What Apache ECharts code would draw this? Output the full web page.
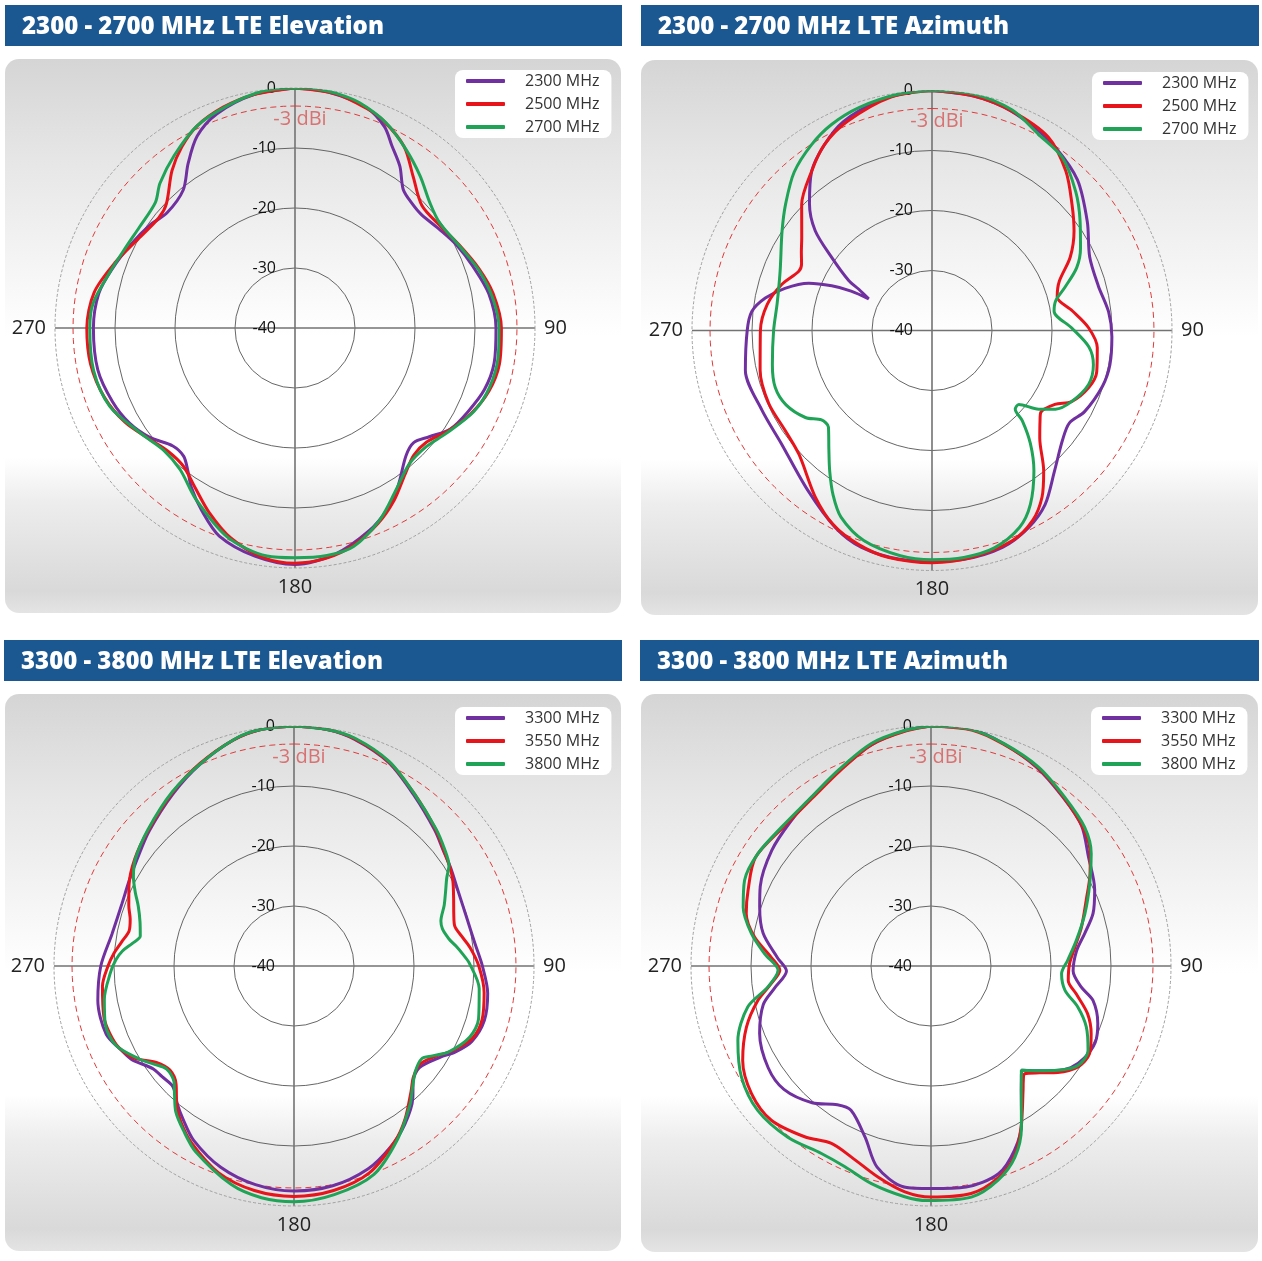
<!DOCTYPE html>
<html><head><meta charset="utf-8">
<script src="https://cdn.jsdelivr.net/npm/echarts@6/dist/echarts.min.js"></script>
<style>html,body{margin:0;padding:0;background:#fff;}#c{width:1262px;height:1261px;}</style>
</head><body><div id="c"></div>
<script>
// ---------- text ----------
const titles = ['2300 - 2700 MHz LTE Elevation', '2300 - 2700 MHz LTE Azimuth', '3300 - 3800 MHz LTE Elevation', '3300 - 3800 MHz LTE Azimuth'];
const bandA = ['2300 MHz', '2500 MHz', '2700 MHz'];
const bandB = ['3300 MHz', '3550 MHz', '3800 MHz'];
const radiusMin = -40, radiusMax = 0, radiusStep = 10;
const angleStep = 90;
const refLevel = -3;
const refLabel = '-3 dBi';

// ---------- data: [angle (deg, clockwise from top), gain (dBi)] ----------
const elevA_2300 = [[0,0],[8,-0.3],[18,-1.4],[24,-3.3],[28,-5.6],[33,-7.9],[38,-10.7],[43,-11.5],[48,-11.7],[56,-10.8],[63,-9.7],[71,-8.6],[80,-7.2],[90,-6.5],[100,-6.3],[108,-6.8],[116,-8.0],[123,-9.1],[129,-11.2],[134,-12.5],[139,-11.8],[147,-8.5],[153,-6.1],[160,-4.0],[170,-1.7],[180,-0.6],[190,-1.4],[200,-3.1],[207,-5.8],[213,-8.3],[217,-10.3],[221,-11.7],[226,-11.7],[233,-9.7],[240,-8.2],[248,-7.2],[258,-6.4],[270,-6.4],[280,-6.8],[288,-8.0],[297,-9.3],[305,-10.3],[312,-11.3],[321,-10.4],[327,-7.3],[333,-4.1],[340,-2.0],[350,-0.5]];
const elevA_2500 = [[0,0],[10,-0.4],[18,-1.5],[23,-2.4],[31,-4.7],[38,-8.0],[46,-10.6],[55,-10.4],[64,-9.2],[72,-7.8],[80,-6.5],[90,-5.6],[100,-5.4],[108,-6.0],[116,-7.4],[124,-9.3],[131,-11.0],[137,-11.0],[143,-9.5],[150,-6.9],[157,-4.6],[165,-2.5],[172,-1.3],[180,-0.8],[188,-1.4],[197,-3.4],[205,-6.1],[212,-8.6],[219,-10.4],[226,-10.5],[233,-9.4],[241,-7.6],[250,-6.2],[260,-5.4],[270,-5.3],[280,-6.0],[290,-8.1],[300,-10.0],[309,-10.8],[314,-10.2],[322,-6.7],[328,-4.4],[334,-2.6],[342,-1.3],[350,-0.5]];
const elevA_2700 = [[0,0],[5,0],[10,-0.3],[16,-0.95],[24,-2.6],[32,-5.0],[39.5,-7.2],[47,-9.3],[54,-10.2],[64,-9.3],[73,-7.8],[82,-6.6],[90,-6.0],[98,-5.8],[107,-6.1],[115,-7.1],[125,-9.3],[132,-10.5],[140,-10.4],[148,-8.2],[156,-5.1],[165,-2.3],[172,-1.7],[180,-1.7],[187,-1.7],[198,-3.4],[210,-7.0],[219,-9.6],[227,-10.1],[236,-8.8],[247,-6.5],[258,-5.7],[270,-5.8],[277,-6.1],[287,-7.8],[296,-8.8],[303,-9.1],[312,-8.7],[317,-7.0],[325,-4.9],[334,-2.6],[343,-1.3],[352,-0.2]];

const azA_2300 = [[0,0],[10,-0.3],[18,-0.9],[26,-2.0],[34,-3.2],[44,-5.1],[55,-8.4],[65,-11.0],[75,-11.3],[84,-10.4],[92,-10.0],[101,-9.8],[108,-10.1],[118,-11.2],[124,-12.4],[130,-11.6],[139,-8.9],[147,-5.4],[154,-3.4],[162,-2.0],[172,-1.5],[180,-1.6],[188,-1.5],[198,-2.0],[206,-3.4],[218,-6.3],[233,-8.6],[245,-8.7],[258,-8.2],[270,-9.2],[276,-9.8],[281,-11.7],[286,-14.5],[291,-18.0],[294,-21.7],[296,-25.0],[296.6,-28.2],[299.4,-26.0],[301,-23.8],[306,-19.4],[310.5,-14.4],[316,-10.6],[323,-6.7],[330,-4.2],[337,-2.2],[347,-0.7],[355,-0.1]];
const azA_2500 = [[0,0],[10,-0.3],[20,-1.1],[31,-2.4],[40,-5.3],[48,-8.6],[55,-11.1],[62,-13.9],[69,-17.3],[75,-18.4],[82,-16.4],[89,-13.9],[96,-12.3],[104,-11.7],[110,-12.2],[117,-13.9],[121,-16.1],[127,-17.3],[130,-16.5],[135,-14.6],[141.5,-10.1],[146.6,-6.7],[152,-4.2],[159,-2.5],[170,-1.6],[180,-1.3],[191,-1.5],[199,-2.3],[207,-3.7],[215,-6.1],[227,-9.7],[236,-10.4],[246,-10.2],[257,-10.6],[270,-11.4],[279,-12.2],[287,-13.8],[294,-15.7],[297,-15.6],[301,-14.6],[305.6,-13.3],[314,-9.8],[323,-6.7],[330,-4.2],[338,-2.4],[350,-0.5]];
const azA_2700 = [[0,0],[10,0],[20,-0.9],[28.5,-2.8],[37,-3.9],[46,-6.7],[53.5,-9.3],[61,-11.7],[66.5,-13.7],[72,-16.7],[76.5,-18.8],[81,-19.4],[89,-16.7],[96,-13.7],[102,-12.5],[109,-12.4],[117,-13.9],[122.5,-15.6],[126.4,-17.9],[130.4,-21.0],[133.4,-20.9],[135,-18.7],[139,-15.0],[144,-11.1],[150.5,-6.7],[156,-4.1],[164,-2.3],[172,-1.8],[180,-1.8],[188,-2.1],[198,-3.2],[206,-5.4],[211,-8.0],[216,-11.0],[221,-13.8],[227,-16.4],[231,-16.3],[235.5,-14.4],[243,-12.7],[250,-12.2],[258,-12.8],[270,-13.6],[280,-13.8],[291.5,-12.8],[303.6,-10.0],[311,-7.7],[319,-5.0],[327,-3.1],[334,-1.8],[342,-0.9],[352,-0.2]];

const elevB_3300 = [[0,0],[8,-0.2],[15,-0.9],[25,-2.6],[35,-5.2],[46,-7.4],[52,-8.5],[58,-9.2],[65,-9.9],[75,-10.1],[83,-9.6],[90,-8.6],[98,-7.4],[106,-7.0],[113,-7.8],[118,-9.5],[122,-11.3],[129,-13.1],[134,-12.4],[138,-10.4],[145,-7.8],[152,-5.8],[160,-4.0],[170,-2.8],[180,-2.5],[190,-3.0],[200,-4.3],[210,-6.5],[216,-8.5],[220,-9.8],[225,-11.5],[230,-11.3],[234,-10.9],[240,-8.8],[244,-8.0],[250,-6.7],[260,-6.8],[270,-7.8],[280,-9.2],[290,-9.5],[297,-9.1],[304,-8.4],[313,-7.0],[325,-4.9],[335,-2.9],[345,-1.0],[352,-0.2]];
const elevB_3550 = [[0,0],[8,-0.2],[15,-0.8],[25,-2.5],[35,-5.0],[46,-7.2],[52,-8.4],[58,-9.3],[62,-10.0],[67,-11.1],[72,-12.0],[76,-12.4],[80,-11.6],[84,-10.5],[90,-9.2],[98,-8.0],[106,-7.4],[112,-7.9],[118,-10.0],[123,-12.2],[128,-13.4],[133,-12.8],[137,-11.4],[144,-8.5],[150,-6.3],[160,-3.3],[170,-2.0],[180,-1.6],[190,-2.0],[200,-3.3],[210,-5.9],[216,-7.9],[220,-9.6],[225,-12.2],[230,-13.0],[235,-12.0],[240,-9.3],[245,-7.8],[250,-7.3],[255,-7.2],[264,-7.9],[270,-9.0],[274,-9.9],[278,-11.0],[282,-11.9],[286,-11.6],[290,-10.7],[296,-9.4],[304,-8.0],[313,-6.8],[325,-4.7],[335,-2.8],[345,-1.0],[352,-0.2]];
const elevB_3800 = [[0,0],[8,-0.2],[15,-0.7],[25,-2.4],[35,-5.0],[46,-7.1],[52,-8.2],[57,-9.2],[60,-10.6],[64,-11.9],[68,-13.0],[73,-14.4],[76,-14.5],[80,-13.8],[83,-12.8],[86,-11.8],[89,-10.8],[97,-8.9],[106,-8.0],[112,-8.4],[119,-10.5],[123,-12.5],[126,-13.7],[131,-13.2],[136,-11.6],[140,-9.9],[149,-6.4],[159,-2.8],[170,-1.3],[180,-0.7],[188,-1.0],[196,-2.1],[208,-5.0],[214,-7.0],[219,-8.7],[223,-10.8],[226,-12.2],[231,-12.7],[235,-11.5],[239,-9.9],[246,-7.5],[253,-7.1],[260,-7.9],[268,-9.4],[272,-10.3],[275,-11.3],[278,-12.8],[281,-13.9],[286,-13.3],[291,-12.2],[295,-10.8],[299,-9.4],[304,-8.1],[313,-6.7],[325,-4.6],[336,-2.7],[346,-0.8],[352,-0.2]];

const azB_3300 = [[0,0],[10,0],[18,-1.0],[28,-2.5],[38,-4.3],[47,-5.7],[55,-8.0],[65,-9.9],[72,-11.6],[78,-13.8],[84,-15.6],[92,-16.3],[98,-14.7],[102,-12.4],[109,-10.6],[115,-9.8],[121,-10.2],[126,-11.2],[130.2,-13.0],[134.3,-15.0],[139,-17.0],[141.7,-15.7],[144,-14.4],[150,-9.8],[155.6,-6.3],[162,-3.6],[171,-2.7],[180,-2.9],[187,-2.9],[195,-5.3],[201,-9.4],[209,-12.5],[214,-12.1],[221,-9.8],[230,-8.0],[238,-8.0],[248.5,-9.3],[257,-11.3],[262,-13.7],[268,-15.9],[273,-14.4],[281,-11.5],[289,-9.8],[295,-8.6],[306,-7.2],[316,-6.4],[325,-5.5],[335,-4.0],[345,-1.8],[354,-0.5]];
const azB_3550 = [[0,0],[10,-0.1],[18,-1.1],[28,-2.4],[38,-4.2],[48,-5.8],[55,-7.6],[60,-9.4],[67,-11.9],[75.5,-14.1],[82.5,-15.8],[89,-16.9],[96,-17.0],[101,-15.3],[107,-12.7],[113,-11.0],[119,-9.8],[124.5,-10.3],[130,-12.4],[134.5,-14.6],[139,-16.2],[141.5,-15.3],[143.5,-14.2],[150.7,-9.3],[156.3,-5.4],[162.6,-2.9],[170,-1.5],[180,-1.5],[186.6,-2.1],[194,-3.7],[202.6,-5.5],[209.3,-6.1],[216.5,-4.6],[226,-3.0],[234.6,-3.3],[243.4,-4.9],[251.7,-7.6],[258.8,-10.6],[263.7,-13.2],[268.4,-14.8],[273.2,-13.3],[279.3,-10.2],[285.8,-8.0],[292.5,-7.0],[301.7,-5.6],[313,-6.2],[325,-5.7],[335,-4.1],[345,-1.8],[354,-0.6]];
const azB_3800 = [[0,0],[9.6,0],[18.3,-1.0],[28.3,-2.3],[38.3,-4.1],[47.9,-5.5],[55,-7.4],[62.6,-10.2],[71.2,-12.9],[80,-15.4],[87.6,-17.2],[93.4,-18.2],[100.3,-17.3],[105.6,-14.6],[111.4,-12.2],[118.2,-10.3],[124,-10.4],[129.4,-12.6],[134.3,-15.0],[139.1,-17.0],[141.7,-15.7],[144,-14.4],[150.7,-9.2],[156.3,-5.2],[162.6,-2.6],[170.1,-0.9],[180.9,-0.9],[186.5,-1.3],[195.3,-2.4],[203.2,-3.6],[210.3,-3.8],[219.9,-2.8],[230.2,-2.4],[239.7,-3.4],[248.9,-5.5],[257.4,-8.7],[262.7,-12.6],[268.4,-14.5],[274.2,-12.2],[280.2,-9.6],[287.4,-7.2],[294.7,-5.8],[303,-5.6],[312.9,-6.0],[324.7,-5.5],[334.6,-3.9],[345,-1.6],[353.6,-0.5]];

// ---------- styling / layout ----------
const colors = ['#7030a0', '#e8141c', '#1fa356'];
const panels = [
  {title: titles[0], names: bandA, data: [elevA_2300, elevA_2500, elevA_2700], center: [295, 328], head: [5, 5, 617, 41], body: [5, 59, 616, 554], legend: [455, 70]},
  {title: titles[1], names: bandA, data: [azA_2300, azA_2500, azA_2700], center: [932, 330.5], head: [641, 5, 618, 41], body: [641, 60, 617, 555], legend: [1092, 72]},
  {title: titles[2], names: bandB, data: [elevB_3300, elevB_3550, elevB_3800], center: [294, 966], head: [4, 640, 618, 41], body: [5, 694, 616, 557], legend: [455, 707]},
  {title: titles[3], names: bandB, data: [azB_3300, azB_3550, azB_3800], center: [931, 966], head: [640, 640, 619, 41], body: [641, 694, 617, 558], legend: [1091, 707]}
];
const R = 240;
const FONT = 'Open Sans';

const bgGradient = {type: 'linear', x: 0, y: 0, x2: 0, y2: 1, colorStops: [
  {offset: 0, color: '#d5d5d5'}, {offset: 0.18, color: '#e6e6e6'}, {offset: 0.4, color: '#f7f7f7'},
  {offset: 0.5, color: '#ffffff'}, {offset: 0.72, color: '#ffffff'}, {offset: 0.8, color: '#ededed'},
  {offset: 0.96, color: '#d9d9d9'}, {offset: 1, color: '#e4e4e4'}]};

const ringAngles = [];
for (let a = 0; a <= 360; a += 3) ringAngles.push(a);

const graphics = [];
const polar = [], angleAxis = [], radiusAxis = [], legend = [], series = [];
panels.forEach((p, i) => {
  graphics.push({type: 'rect', z: -10, shape: {x: p.head[0], y: p.head[1], width: p.head[2], height: p.head[3]}, style: {fill: '#1b5892'}});
  graphics.push({type: 'text', z: 5, x: p.head[0] + 17, y: p.head[1] + p.head[3] / 2 + 2, style: {text: p.title, fill: '#ffffff', font: '800 24px "Open Sans"', verticalAlign: 'middle'}});
  graphics.push({type: 'rect', z: -10, shape: {x: p.body[0], y: p.body[1], width: p.body[2], height: p.body[3], r: 14}, style: {fill: bgGradient}});
  polar.push({center: p.center, radius: R});
  angleAxis.push({polarIndex: i, type: 'value', min: 0, max: 360, interval: angleStep, startAngle: 90, clockwise: true,
    axisLine: {show: true, lineStyle: {color: '#a0a0a0', width: 1, type: [3, 2]}},
    axisTick: {show: false},
    axisLabel: {show: true, margin: 9, fontSize: 20, color: '#222', fontFamily: FONT, formatter: v => (v === 0 || v === 360) ? '' : String(v)},
    splitLine: {show: true, lineStyle: {color: '#737373', width: 1.6}}});
  radiusAxis.push({polarIndex: i, type: 'value', min: radiusMin, max: radiusMax, interval: radiusStep,
    axisLine: {show: false}, axisTick: {show: false},
    axisLabel: {show: true, fontSize: 16, color: '#111', fontFamily: FONT, margin: 19},
    splitLine: {show: true, lineStyle: {color: ['#555', '#555', '#555', '#555', 'rgba(0,0,0,0)'], width: 0.9}}});
  legend.push({data: p.names, left: p.legend[0], top: p.legend[1], orient: 'vertical', icon: 'roundRect', itemWidth: 39, itemHeight: 4, itemGap: 5,
    backgroundColor: '#ffffff', borderRadius: 8, padding: [2, 12, 2, 11],
    textStyle: {fontSize: 16, color: '#333', fontFamily: FONT, lineHeight: 18, padding: [0, 0, 0, 15]}});
  series.push({type: 'line', name: refLabel, coordinateSystem: 'polar', polarIndex: i, z: 1, silent: true, showSymbol: false, symbol: 'none',
    data: ringAngles.map(a => [refLevel, a]), lineStyle: {color: '#e03a3a', width: 1, type: [6, 4]}});
  p.data.forEach((arr, k) => {
    const d = arr.map(([a, v]) => [v, a]);
    d.push([arr[0][1], 360]);
    series.push({type: 'line', name: p.names[k], coordinateSystem: 'polar', polarIndex: i, z: 3 + k, showSymbol: false, symbol: 'none', smooth: 0.3,
      data: d, lineStyle: {color: colors[k], width: 3}, itemStyle: {color: colors[k]}});
  });
  graphics.push({type: 'text', z: 20, x: p.center[0] + 5, y: p.center[1] - 209, style: {text: refLabel, fill: 'rgba(214,70,70,0.72)', font: '20px "Open Sans"', align: 'center', verticalAlign: 'middle'}});
});

const chart = echarts.init(document.getElementById('c'), null, {renderer: 'canvas'});
chart.setOption({animation: false, textStyle: {fontFamily: FONT}, graphic: {elements: graphics}, polar, angleAxis, radiusAxis, legend, series});
</script></body></html>
